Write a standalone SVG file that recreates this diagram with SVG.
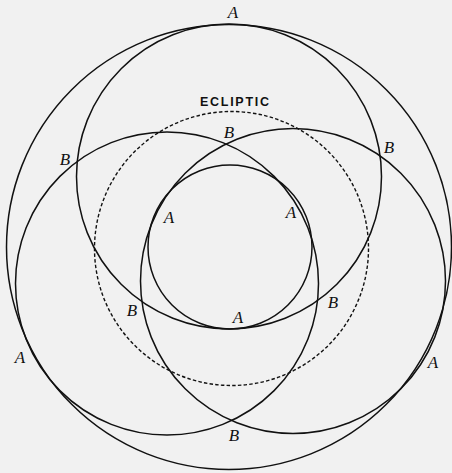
<svg xmlns="http://www.w3.org/2000/svg" width="452" height="473" viewBox="0 0 452 473">
  <style>
    .c { fill: none; stroke: #111; stroke-width: 1.5; }
    .d { fill: none; stroke: #111; stroke-width: 1.4; stroke-dasharray: 3.5 2.2; }
    .l { font-family: "Liberation Serif", "Times New Roman", serif; font-style: italic; font-size: 17px; fill: #111; text-anchor: middle; }
    .e { font-family: "Liberation Sans", Arial, sans-serif; font-weight: bold; font-size: 12.5px; fill: #111; }
  </style>
  <rect x="0" y="0" width="452" height="473" fill="#f1f1f1"/>
  <g id="outer"><circle class="c" cx="229" cy="247" r="222.5"/></g>
  <g id="inner"><circle class="c" cx="230" cy="247" r="82"/></g>
  <g id="ecliptic"><circle class="d" cx="231.5" cy="248.5" r="137"/></g>
  <g id="top-circle"><circle class="c" cx="229" cy="176.5" r="152.5"/></g>
  <g id="left-circle"><circle class="c" cx="167" cy="283.5" r="151.5"/></g>
  <g id="right-circle"><circle class="c" cx="293" cy="281" r="152.5"/></g>
  <g id="labels">
    <text class="e" x="200" y="106" textLength="69" lengthAdjust="spacing">ECLIPTIC</text>
    <text class="l" x="233" y="18">A</text>
    <text class="l" x="65" y="165">B</text>
    <text class="l" x="389" y="153">B</text>
    <text class="l" x="229" y="138">B</text>
    <text class="l" x="169" y="223">A</text>
    <text class="l" x="291" y="218">A</text>
    <text class="l" x="238" y="323">A</text>
    <text class="l" x="132" y="316">B</text>
    <text class="l" x="333" y="308">B</text>
    <text class="l" x="20" y="363">A</text>
    <text class="l" x="433" y="368">A</text>
    <text class="l" x="234" y="441">B</text>
  </g>
</svg>
